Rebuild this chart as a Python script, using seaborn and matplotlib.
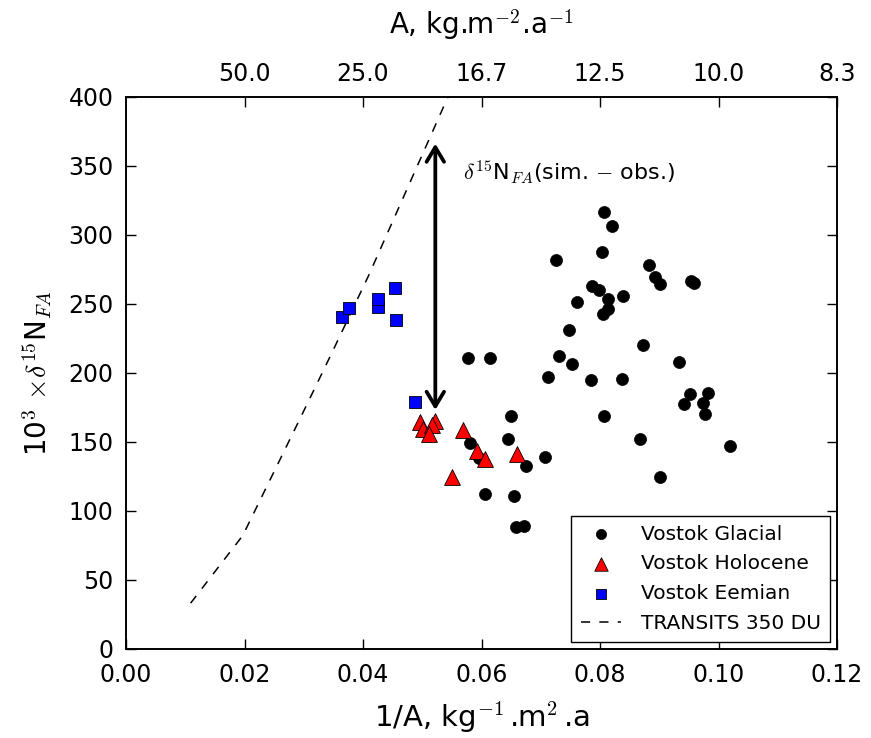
import matplotlib
matplotlib.use("Agg")
import matplotlib.pyplot as plt
import seaborn as sns
import pandas as pd

# Vostok Glacial (1/A, d15N*1e3)
glacial_x = [0.0578, 0.0615, 0.0650, 0.0645, 0.0581, 0.0595, 0.0675, 0.0606, 0.0654,
             0.0659, 0.0671, 0.0707, 0.0806, 0.0821, 0.0803, 0.0725, 0.0882, 0.0893,
             0.0901, 0.0953, 0.0959, 0.0786, 0.0798, 0.0813, 0.0839, 0.0761, 0.0814,
             0.0805, 0.0748, 0.0873, 0.0731, 0.0753, 0.0933, 0.0712, 0.0785, 0.0837,
             0.0952, 0.0983, 0.0941, 0.0973, 0.0977, 0.0807, 0.0867, 0.0901, 0.1020]
glacial_y = [210.4, 210.4, 168.4, 152.0, 148.8, 138.0, 132.6, 111.9, 110.9,
             88.5, 89.1, 138.9, 316.7, 306.5, 287.2, 281.7, 278.3, 269.6,
             264.5, 266.7, 264.8, 263.0, 259.7, 253.4, 255.4, 251.4, 246.4,
             242.8, 230.9, 220.1, 212.3, 206.5, 207.7, 196.7, 194.9, 195.4,
             184.8, 185.3, 177.3, 177.8, 170.3, 168.6, 152.0, 124.2, 146.9]

# Vostok Holocene
holocene_x = [0.0496, 0.0522, 0.0501, 0.0516, 0.0512, 0.0568, 0.0592, 0.0606, 0.0660, 0.0550]
holocene_y = [164.5, 165.2, 159.4, 161.9, 155.6, 158.5, 143.5, 137.2, 140.9, 124.2]

# Vostok Eemian
eemian_x = [0.0365, 0.0376, 0.0425, 0.0426, 0.0454, 0.0455, 0.0487]
eemian_y = [240.1, 247.1, 247.6, 253.4, 261.2, 238.2, 179.0]

# TRANSITS 350 DU model curve
transits_x = [0.0109, 0.0197, 0.0294, 0.0347, 0.0409, 0.0541, 0.0560]
transits_y = [33.0, 82.0, 167.0, 214.0, 270.0, 397.6, 415.0]

# arrow (sim. - obs.)
arrow_x = 0.0522
arrow_y_top = 366.0
arrow_y_bottom = 173.0

xticks = [0.00, 0.02, 0.04, 0.06, 0.08, 0.10, 0.12]
yticks = [0, 50, 100, 150, 200, 250, 300, 350, 400]
top_ticks = [0.02, 0.04, 0.06, 0.08, 0.10, 0.12]
top_labels = ["50.0", "25.0", "16.7", "12.5", "10.0", "8.3"]

sns.set_style("ticks")
plt.rcParams["mathtext.fontset"] = "cm"
plt.rcParams["font.family"] = ["DejaVu Sans"]
for k in ["text.color", "axes.labelcolor", "xtick.color", "ytick.color", "axes.edgecolor"]:
    plt.rcParams[k] = "black"
plt.rcParams["xtick.direction"] = "in"
plt.rcParams["ytick.direction"] = "in"
plt.rcParams["xtick.major.size"] = 7
plt.rcParams["ytick.major.size"] = 7
plt.rcParams["axes.linewidth"] = 1.2

fig = plt.figure(figsize=(8.71, 7.38), dpi=100)
ax = fig.add_axes([0.1447, 0.121, 0.8163, 0.748])

df_g = pd.DataFrame({"x": glacial_x, "y": glacial_y})
df_h = pd.DataFrame({"x": holocene_x, "y": holocene_y})
df_e = pd.DataFrame({"x": eemian_x, "y": eemian_y})
df_t = pd.DataFrame({"x": transits_x, "y": transits_y})

sns.scatterplot(data=df_g, x="x", y="y", ax=ax, color="black", marker="o", s=75,
                edgecolor="black", linewidth=0.5, label="Vostok Glacial", zorder=3)
sns.scatterplot(data=df_h, x="x", y="y", ax=ax, color="red", marker="^", s=130,
                edgecolor="black", linewidth=0.6, label="Vostok Holocene", zorder=3)
sns.scatterplot(data=df_e, x="x", y="y", ax=ax, color="blue", marker="s", s=85,
                edgecolor="black", linewidth=0.6, label="Vostok Eemian", zorder=3)
sns.lineplot(data=df_t, x="x", y="y", ax=ax, color="black", sort=False,
             linestyle=(0, (6, 6)), linewidth=1.1, label="TRANSITS 350 DU", zorder=2)

ax.annotate("", xy=(arrow_x, arrow_y_top), xytext=(arrow_x, arrow_y_bottom),
            arrowprops=dict(arrowstyle="<->,head_length=0.5,head_width=0.3",
                            color="black", lw=2.7, mutation_scale=21,
                            shrinkA=0, shrinkB=0), zorder=4)
ax.text(0.0569, 345, r"$\delta^{15}$N$_{FA}$(sim. $-$ obs.)", fontsize=16,
        ha="left", va="center")

ax.set_xlim(0, 0.12)
ax.set_ylim(0, 400)
ax.set_xticks(xticks)
ax.set_xticklabels([f"{v:.2f}" for v in xticks])
ax.set_yticks(yticks)
ax.tick_params(axis="both", labelsize=17, right=True, top=False, width=1)
ax.tick_params(axis="y", pad=9)
ax.tick_params(axis="x", pad=10.5)
ax.set_xlabel(r"1/A, kg$^{-1}\,$.m$^2\,$.a", fontsize=21, labelpad=9)
ax.set_ylabel(r"10$^3$ $\times\delta^{15}$N$_{FA}$", fontsize=20, labelpad=10)

ax2 = ax.twiny()
ax2.set_xlim(ax.get_xlim())
ax2.set_xticks(top_ticks)
ax2.set_xticklabels(top_labels)
ax2.tick_params(axis="x", labelsize=17, direction="in", width=1, length=7, pad=8)
ax2.set_xlabel(r"A, kg.m$^{-2}$.a$^{-1}$", fontsize=20, labelpad=20)

leg = ax.legend(loc="lower right", fontsize=14.5, frameon=True, fancybox=False,
                edgecolor="black", framealpha=1, borderaxespad=0.35,
                borderpad=0.45, labelspacing=0.53,
                handlelength=2.0, handletextpad=1.0, markerscale=0.85)
leg.get_frame().set_linewidth(1.0)

fig.savefig("out.png", dpi=100)
